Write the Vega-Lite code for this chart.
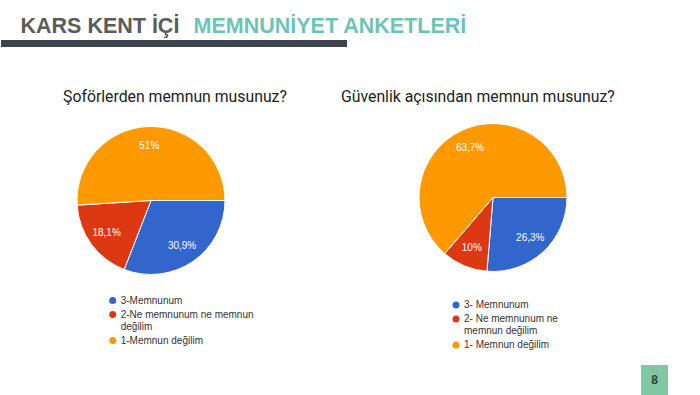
{
  "$schema": "https://vega.github.io/schema/vega-lite/v6.json",
  "background": "white",
  "padding": {"left": 0, "top": 16, "right": 0, "bottom": 0},
  "config": {"view": {"stroke": null}},
  "bounds": "flush",
  "spacing": 83,
  "vconcat": [
    {
      "bounds": "flush",
      "spacing": 0,
      "hconcat": [
        {
          "width": 193, "height": 7,
          "view": {"fill": "#3d4450", "stroke": null},
          "title": {"text": "KARS KENT İÇİ", "anchor": "start", "dx": 20, "color": "#5b5b5b", "font": "Liberation Sans", "fontSize": 21.5, "fontWeight": "bold", "baseline": "top", "offset": 2},
          "data": {"values": [{"k": 1}]},
          "mark": {"type": "rule", "opacity": 0},
          "encoding": {}
        },
        {
          "width": 153, "height": 7,
          "view": {"fill": "#3d4450", "stroke": null},
          "title": {"text": "MEMNUNİYET ANKETLERİ", "anchor": "start", "dx": 0, "color": "#6cc4b6", "font": "Liberation Sans", "fontSize": 21.5, "fontWeight": "bold", "baseline": "top", "offset": 2},
          "data": {"values": [{"k": 1}]},
          "mark": {"type": "rule", "opacity": 0},
          "encoding": {}
        }
      ]
    },
    {
      "bounds": "flush",
      "spacing": 242,
      "vconcat": [
        {
          "bounds": "flush",
          "spacing": 40,
          "resolve": {"scale": {"color": "independent", "theta": "independent"}, "legend": {"color": "independent"}},
          "hconcat": [
            {
              "width": 300, "height": 155,
              "title": {"text": "Şoförlerden memnun musunuz?", "anchor": "start", "dx": 62, "font": "Roboto", "fontSize": 15.8, "fontWeight": "normal", "color": "#222222", "baseline": "alphabetic", "offset": 4.9},
              "data": {"values": [
                {"cat": "3-Memnunum", "pct": 30.9, "label": "30,9%", "ord": 1},
                {"cat": "2-Ne memnunum ne memnun|değilim", "pct": 18.1, "label": "18,1%", "ord": 2},
                {"cat": "1-Memnun değilim", "pct": 51, "label": "51%", "ord": 3}
              ]},
              "encoding": {
                "theta": {"field": "pct", "type": "quantitative", "stack": true, "scale": {"range": [1.5707963, 7.8539816]}},
                "order": {"field": "ord", "type": "quantitative"},
                "color": {
                  "field": "cat", "type": "nominal",
                  "scale": {"domain": ["3-Memnunum", "2-Ne memnunum ne memnun|değilim", "1-Memnun değilim"], "range": ["#3366cc", "#dc3912", "#ff9900"]},
                  "legend": {"title": null, "orient": "none", "legendX": 106.7, "legendY": 172.5, "direction": "vertical", "labelExpr": "split(datum.label, '|')", "symbolType": "circle", "symbolSize": 49, "symbolStrokeWidth": 0, "labelFont": "Liberation Sans", "labelFontSize": 10, "labelColor": "#333333", "labelOffset": 3, "rowPadding": 4, "padding": 0, "labelLimit": 300}
                }
              },
              "layer": [
                {"mark": {"type": "arc", "radius": 74, "stroke": "white", "strokeWidth": 1}},
                {"mark": {"type": "text", "radius": 55, "font": "Liberation Sans", "fontSize": 10}, "encoding": {"text": {"field": "label"}, "color": {"value": "white"}}}
              ]
            },
            {
              "width": 304, "height": 149,
              "title": {"text": "Güvenlik açısından memnun musunuz?", "anchor": "start", "dx": 0, "font": "Roboto", "fontSize": 15.8, "fontWeight": "normal", "color": "#222222", "baseline": "alphabetic", "offset": 3.9},
              "data": {"values": [
                {"cat": "3- Memnunum", "pct": 26.3, "label": "26,3%", "ord": 1},
                {"cat": "2- Ne memnunum ne|memnun değilim", "pct": 10, "label": "10%", "ord": 2},
                {"cat": "1- Memnun değilim", "pct": 63.7, "label": "63,7%", "ord": 3}
              ]},
              "encoding": {
                "theta": {"field": "pct", "type": "quantitative", "stack": true, "scale": {"range": [1.5707963, 7.8539816]}},
                "order": {"field": "ord", "type": "quantitative"},
                "color": {
                  "field": "cat", "type": "nominal",
                  "scale": {"domain": ["3- Memnunum", "2- Ne memnunum ne|memnun değilim", "1- Memnun değilim"], "range": ["#3366cc", "#dc3912", "#ff9900"]},
                  "legend": {"title": null, "orient": "none", "legendX": 110, "legendY": 177, "direction": "vertical", "labelExpr": "split(datum.label, '|')", "symbolType": "circle", "symbolSize": 49, "symbolStrokeWidth": 0, "labelFont": "Liberation Sans", "labelFontSize": 10, "labelColor": "#333333", "labelOffset": 3, "rowPadding": 4, "padding": 0, "labelLimit": 300}
                }
              },
              "layer": [
                {"mark": {"type": "arc", "radius": 74, "stroke": "white", "strokeWidth": 1}},
                {"mark": {"type": "text", "radius": 55, "font": "Liberation Sans", "fontSize": 10}, "encoding": {"text": {"field": "label"}, "color": {"value": "white"}}}
              ]
            }
          ]
        },
        {
          "bounds": "flush",
          "spacing": 20,
          "hconcat": [
            {
              "width": 620, "height": 30,
              "data": {"values": [{"k": 1}]},
              "mark": {"type": "rule", "opacity": 0},
              "encoding": {}
            },
            {
              "width": 27, "height": 30,
              "view": {"fill": "#80c8a4", "stroke": null},
              "data": {"values": [{"n": "8"}]},
              "mark": {"type": "text", "font": "Liberation Sans", "fontSize": 12, "fontWeight": "bold", "color": "#3a3a3a"},
              "encoding": {"text": {"field": "n"}}
            }
          ]
        }
      ]
    }
  ]
}
